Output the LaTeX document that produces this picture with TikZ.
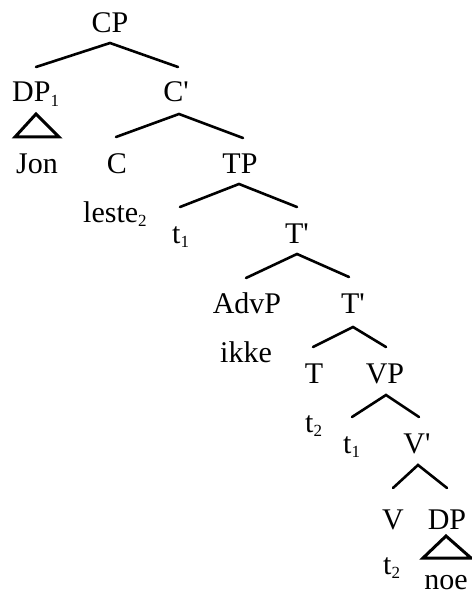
\documentclass[tikz,border=0pt]{standalone}
\usepackage{fontspec}
\setmainfont{Liberation Serif}[Ligatures=TeXOff]
% lowered small index digit
\newcommand\lsub[1]{\raisebox{-0.14em}{\fontsize{17}{17}\selectfont #1}}
% straight prime mark
\newcommand\pr{'}
\begin{document}
\begin{tikzpicture}[x=1pt,y=-1pt,
  lbl/.style={inner sep=0pt, anchor=base, font=\fontsize{30}{36}\selectfont},
  lbw/.style={lbl, anchor=base west},
  branch/.style={line width=2.6pt, line cap=round},
  tri/.style={line width=3pt, line join=miter}]
\useasboundingbox (0,0) rectangle (471,596);

% labels
\node[lbl] (cp)    at (110,33)  {CP};
\node[lbw] (dp1)   at (12,102)  {DP\lsub{1}};
\node[lbl] (cbar)  at (176,102) {C\pr};
\node[lbl] (jon)   at (37,173)  {Jon};
\node[lbl] (c)     at (117,173) {C};
\node[lbl] (tp)    at (240,173) {TP};
\node[lbw] (leste) at (83,222)  {leste\lsub{2}};
\node[lbw] (t1a)   at (172,243) {t\lsub{1}};
\node[lbl] (tbara) at (297,243) {T\pr};
\node[lbl] (advp)  at (247,313) {AdvP};
\node[lbl] (tbarb) at (353,313) {T\pr};
\node[lbl] (ikke)  at (246,362) {ikke};
\node[lbl] (t)     at (314,383) {T};
\node[lbl] (vp)    at (385,383) {VP};
\node[lbw] (t2a)   at (305,432) {t\lsub{2}};
\node[lbw] (t1b)   at (343,453) {t\lsub{1}};
\node[lbl] (vbar)  at (417,453) {V\pr};
\node[lbl] (v)     at (393,529) {V};
\node[lbl] (dp)    at (447,529) {DP};
\node[lbw] (t2b)   at (383,574) {t\lsub{2}};
\node[lbl] (noe)   at (446,589) {noe};

% branch points under each mother and tops of each daughter
\coordinate (cp-a)    at (110,43);
\coordinate (dp1-t)   at (36,67);
\coordinate (cbar-t)  at (178,67);
\coordinate (cbar-a)  at (179,114);
\coordinate (c-t)     at (116,137);
\coordinate (tp-t)    at (243,138);
\coordinate (tp-a)    at (239,184);
\coordinate (t1a-t)   at (180,207);
\coordinate (tbara-t) at (297,207);
\coordinate (tbara-a) at (297,254);
\coordinate (advp-t)  at (246,278);
\coordinate (tbarb-t) at (349,277);
\coordinate (tbarb-a) at (353,327);
\coordinate (t-t)     at (313,347);
\coordinate (vp-t)    at (386,347);
\coordinate (vp-a)    at (386,395);
\coordinate (t1b-t)   at (352,417);
\coordinate (vbar-t)  at (419,417);
\coordinate (vbar-a)  at (418,465);
\coordinate (v-t)     at (393,488);
\coordinate (dp-t)    at (447,488);

% branches
\draw[branch] (dp1-t) -- (cp-a) -- (cbar-t);
\draw[branch] (c-t) -- (cbar-a) -- (tp-t);
\draw[branch] (t1a-t) -- (tp-a) -- (tbara-t);
\draw[branch] (advp-t) -- (tbara-a) -- (tbarb-t);
\draw[branch] (t-t) -- (tbarb-a) -- (vp-t);
\draw[branch] (t1b-t) -- (vp-a) -- (vbar-t);
\draw[branch] (v-t) -- (vbar-a) -- (dp-t);

% roof triangles over unanalysed phrases
\coordinate (dp1-r) at (36,114);
\coordinate (dp-r)  at (446,536);
\draw[tri] (dp1-r) -- ++(-21,23) -- ++(44,0) -- cycle;
\draw[tri] (dp-r) -- ++(-23,22) -- ++(48,0) -- cycle;
\end{tikzpicture}
\end{document}
